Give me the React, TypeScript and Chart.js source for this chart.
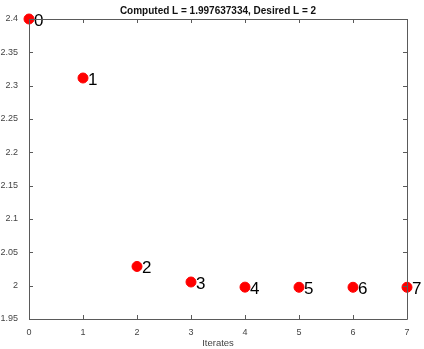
import React, { useEffect, useRef } from "react";
import { Chart, registerables } from "chart.js";

Chart.register(...registerables);

const iterates = [0, 1, 2, 3, 4, 5, 6, 7];
const values = [2.4, 2.3115, 2.0288, 2.0055, 1.9978, 1.9976, 1.9976, 1.9976];
const pointLabels = ["0", "1", "2", "3", "4", "5", "6", "7"];
const titleText = "Computed L = 1.997637334, Desired L = 2";
const xTitle = "Iterates";

const AXIS_COLOR = "#5a5a5a";
const FONT = "'Liberation Sans', Arial, Helvetica, sans-serif";

const boxPlugin = {
  id: "boxPlugin",
  afterDraw(chart: any) {
    const { ctx, chartArea } = chart;
    const { left, right, top, bottom } = chartArea;
    const xs = chart.scales.x;
    const ys = chart.scales.y;
    ctx.save();
    ctx.strokeStyle = AXIS_COLOR;
    ctx.lineWidth = 1;
    ctx.beginPath();
    ctx.rect(left + 0.5, top + 0.5, right - left, bottom - top);
    ctx.stroke();
    const tl = 4;
    ctx.beginPath();
    xs.ticks.forEach((t: any) => {
      const px = Math.round(xs.getPixelForValue(t.value)) + 0.5;
      ctx.moveTo(px, bottom);
      ctx.lineTo(px, bottom - tl);
      ctx.moveTo(px, top);
      ctx.lineTo(px, top + tl);
    });
    ys.ticks.forEach((t: any) => {
      const py = Math.round(ys.getPixelForValue(t.value)) + 0.5;
      ctx.moveTo(left, py);
      ctx.lineTo(left + tl, py);
      ctx.moveTo(right, py);
      ctx.lineTo(right - tl, py);
    });
    ctx.stroke();
    ctx.fillStyle = "#111";
    ctx.font = `bold 10px ${FONT}`;
    ctx.textAlign = "center";
    ctx.textBaseline = "middle";
    ctx.fillText(titleText, (left + right) / 2, 11);
    ctx.restore();
  },
  afterDatasetsDraw(chart: any) {
    const { ctx } = chart;
    const meta = chart.getDatasetMeta(0);
    ctx.save();
    ctx.fillStyle = "#000";
    ctx.font = `17px ${FONT}`;
    ctx.textAlign = "left";
    ctx.textBaseline = "middle";
    meta.data.forEach((el: any, i: number) => {
      ctx.fillText(pointLabels[i], el.x + 5, el.y + 2);
    });
    ctx.restore();
  },
};

export default function App() {
  const ref = useRef<HTMLCanvasElement>(null);
  useEffect(() => {
    document.body.style.margin = "0";
    const chart = new Chart(ref.current!, {
      type: "scatter",
      data: {
        datasets: [
          {
            data: iterates.map((x, i) => ({ x, y: values[i] })),
            backgroundColor: "#ff0000",
            borderColor: "#ff0000",
            pointRadius: 5,
            pointHoverRadius: 5,
            clip: false,
          } as any,
        ],
      },
      options: {
        animation: false,
        responsive: false,
        layout: { padding: { top: 19, right: 17, left: 0, bottom: 0 } },
        plugins: {
          legend: { display: false },
          tooltip: { enabled: false },
          title: { display: false },
        },
        scales: {
          x: {
            type: "linear",
            min: 0,
            max: 7,
            ticks: { stepSize: 1, color: "#444", font: { size: 9, family: FONT }, padding: 0 },
            grid: { display: false },
            border: { display: false },
            title: { display: true, text: xTitle, color: "#444", font: { size: 9.5, family: FONT }, padding: { top: 1, bottom: 0 } },
            afterFit(scale: any) {
              scale.height = 30;
            },
          },
          y: {
            min: 1.95,
            max: 2.4,
            ticks: {
              stepSize: 0.05,
              color: "#444",
              font: { size: 9, family: FONT },
              padding: 3,
              callback: (v: any) => String(Number(Number(v).toFixed(2))),
            },
            grid: { display: false },
            border: { display: false },
            afterFit(scale: any) {
              scale.width = 29;
            },
          },
        },
      },
      plugins: [boxPlugin],
    });
    return () => chart.destroy();
  }, []);
  return <canvas ref={ref} width={424} height={349} style={{ display: "block" }} />;
}
